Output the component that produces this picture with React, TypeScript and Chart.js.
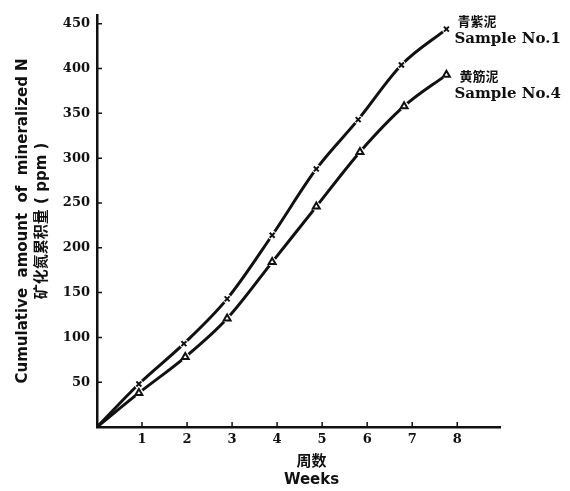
import React, { useEffect, useRef } from "react";
import { Chart, registerables } from "chart.js";

Chart.register(...registerables);

// Sample No.1 (青紫泥)
const weeksNo1 = [0, 0.93, 1.93, 2.89, 3.89, 4.87, 5.8, 6.76, 7.76];
const valuesNo1 = [0, 48, 93, 143, 214, 288, 343, 404, 444];
// Sample No.4 (黄筋泥)
const weeksNo4 = [0, 0.93, 1.96, 2.89, 3.89, 4.87, 5.84, 6.82, 7.76];
const valuesNo4 = [0, 38, 78, 121, 184, 246, 307, 358, 393];

const xTickValues = [1, 2, 3, 4, 5, 6, 7, 8];
const yTickValues = [50, 100, 150, 200, 250, 300, 350, 400, 450];

const labelNo1 = ["青紫泥", "Sample No.1"];
const labelNo4 = ["黄筋泥", "Sample No.4"];
const yTitle = ["Cumulative  amount  of  mineralized N", "矿化氮累积量 ( ppm )"];
const xTitle = ["     周数", "     Weeks"];

const toPoints = (xs: number[], ys: number[]) => xs.map((x, i) => ({ x, y: ys[i] }));

const INK = "#111";

const insideTicks = {
  id: "insideTicks",
  afterDraw(chart: any) {
    const { ctx, scales } = chart;
    const x = scales.x;
    const y = scales.y;
    ctx.save();
    ctx.strokeStyle = INK;
    ctx.lineWidth = 1.5;
    ctx.beginPath();
    xTickValues.forEach((v) => {
      const px = x.getPixelForValue(v);
      ctx.moveTo(px, y.bottom);
      ctx.lineTo(px, y.bottom - 5);
    });
    yTickValues.forEach((v) => {
      const py = y.getPixelForValue(v);
      ctx.moveTo(x.left, py);
      ctx.lineTo(x.left + 5, py);
    });
    ctx.stroke();

    // series labels next to the last point of each curve
    const drawLabel = (datasetIndex: number, lines: string[], dx: number[], dy: number[]) => {
      const meta = chart.getDatasetMeta(datasetIndex);
      const last = meta.data[meta.data.length - 1];
      ctx.fillStyle = INK;
      ctx.textBaseline = "middle";
      ctx.textAlign = "left";
      ctx.font = "bold 13px 'Noto Sans CJK SC', sans-serif";
      ctx.fillText(lines[0], last.x + dx[0], last.y + dy[0]);
      ctx.font = "bold 15px 'DejaVu Serif', serif";
      ctx.fillText(lines[1], last.x + dx[1], last.y + dy[1]);
    };
    drawLabel(0, labelNo1, [11, 8], [-8, 10]);
    drawLabel(3, labelNo4, [13, 8], [1, 19]);
    ctx.restore();
  },
};

export default function App() {
  const ref = useRef<HTMLCanvasElement | null>(null);

  useEffect(() => {
    if (!ref.current) return;
    const p1 = toPoints(weeksNo1, valuesNo1);
    const p4 = toPoints(weeksNo4, valuesNo4);
    const lineBase = {
      showLine: true,
      borderColor: INK,
      borderWidth: 3,
      pointRadius: 0,
      cubicInterpolationMode: "monotone",
      fill: false,
    };
    const chart = new Chart(ref.current, {
      type: "scatter",
      data: {
        datasets: [
          { ...lineBase, label: "Sample No.1", data: p1, order: 3 },
          {
            label: "gap1",
            data: p1.slice(1),
            showLine: false,
            pointRadius: 4.5,
            pointStyle: "circle",
            pointBackgroundColor: "#fff",
            pointBorderColor: "#fff",
            pointBorderWidth: 0,
            order: 2,
          },
          {
            label: "marker1",
            data: p1.slice(1),
            showLine: false,
            pointRadius: 3.5,
            pointStyle: "crossRot",
            pointBorderColor: INK,
            pointBorderWidth: 2,
            order: 1,
          },
          { ...lineBase, label: "Sample No.4", data: p4, order: 3 },
          {
            label: "gap4",
            data: p4.slice(1),
            showLine: false,
            pointRadius: 4.5,
            pointStyle: "circle",
            pointBackgroundColor: "#fff",
            pointBorderColor: "#fff",
            pointBorderWidth: 0,
            order: 2,
          },
          {
            label: "marker4",
            data: p4.slice(1),
            showLine: false,
            pointRadius: 4,
            pointStyle: "triangle",
            pointBackgroundColor: "#fff",
            pointBorderColor: INK,
            pointBorderWidth: 2,
            order: 1,
          },
        ],
      },
      options: {
        animation: false,
        responsive: false,
        layout: { padding: { left: 0, right: 70, top: 8, bottom: 0 } },
        plugins: {
          legend: { display: false },
          tooltip: { enabled: false },
        },
        scales: {
          x: {
            type: "linear",
            min: 0,
            max: 8.95,
            afterFit: (s: any) => {
              s.height = 64;
            },
            afterBuildTicks: (s: any) => {
              s.ticks = xTickValues.map((v) => ({ value: v }));
            },
            grid: { display: false, drawTicks: false, tickLength: 0 },
            border: { display: true, color: INK, width: 2.5 },
            ticks: {
              color: INK,
              font: { family: "'DejaVu Serif', serif", size: 13, weight: "bold" },
              padding: 5,
              maxRotation: 0,
              autoSkip: false,
            },
            title: {
              display: true,
              text: xTitle,
              color: INK,
              font: { family: "'DejaVu Sans', 'Noto Sans CJK SC', sans-serif", size: 15, weight: "bold", lineHeight: 1.2 },
              padding: { top: 0, bottom: 2 },
            },
          },
          y: {
            type: "linear",
            min: 0,
            max: 460,
            afterFit: (s: any) => {
              s.width = 97;
            },
            afterBuildTicks: (s: any) => {
              s.ticks = yTickValues.map((v) => ({ value: v }));
            },
            grid: { display: false, drawTicks: false, tickLength: 0 },
            border: { display: true, color: INK, width: 2.5 },
            ticks: {
              color: INK,
              font: { family: "'DejaVu Serif', serif", size: 13, weight: "bold" },
              padding: 7,
              autoSkip: false,
            },
            title: {
              display: true,
              text: yTitle,
              color: INK,
              font: { family: "'DejaVu Sans', 'Noto Sans CJK SC', sans-serif", size: 15, weight: "bold", lineHeight: 1.27 },
              padding: { top: 14, bottom: 0 },
            },
          },
        },
      },
      plugins: [insideTicks],
    } as any);
    return () => chart.destroy();
  }, []);

  return (
    <div style={{ position: "absolute", left: 0, top: 0, width: 570, height: 491, background: "#fff" }}>
      <canvas ref={ref} width={570} height={491} style={{ display: "block" }} />
    </div>
  );
}
